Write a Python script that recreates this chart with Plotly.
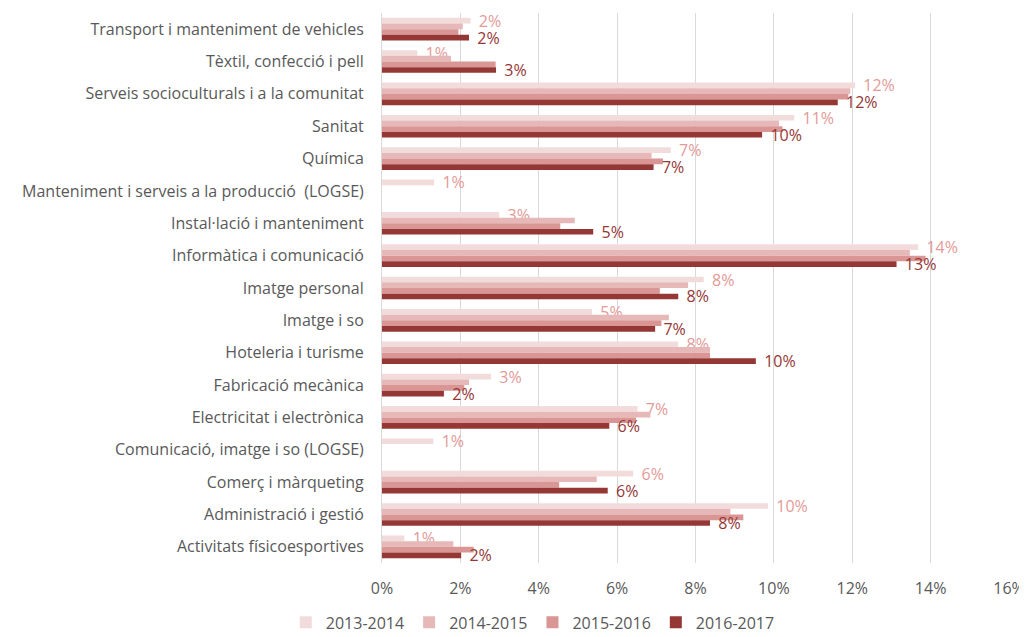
import plotly.graph_objects as go

# -----------------------------
# Daten (Anteil in %)
# -----------------------------
families = [
    "Transport i manteniment de vehicles",
    "Tèxtil, confecció i pell",
    "Serveis socioculturals i a la comunitat",
    "Sanitat",
    "Química",
    "Manteniment i serveis a la producció  (LOGSE)",
    "Instal·lació i manteniment",
    "Informàtica i comunicació",
    "Imatge personal",
    "Imatge i so",
    "Hoteleria i turisme",
    "Fabricació mecànica",
    "Electricitat i electrònica",
    "Comunicació, imatge i so (LOGSE)",
    "Comerç i màrqueting",
    "Administració i gestió",
    "Activitats físicoesportives",
]

years = ["2013-2014", "2014-2015", "2015-2016", "2016-2017"]

v2013 = [2.26, 0.90, 12.07, 10.52, 7.37, 1.33, 2.99, 13.68, 8.21, 5.36, 7.56, 2.78, 6.52, 1.31, 6.41, 9.85, 0.57]
v2014 = [2.06, 1.76, 11.95, 10.13, 6.88, None, 4.92, 13.47, 7.81, 7.32, 8.37, 2.22, 6.85, None, 5.48, 8.89, 1.82]
v2015 = [1.95, 2.90, 11.90, 10.22, 7.17, None, 4.55, 13.87, 7.09, 7.13, 8.37, 2.10, 6.48, None, 4.52, 9.22, 2.34]
v2016 = [2.22, 2.91, 11.63, 9.70, 6.93, None, 5.39, 13.13, 7.56, 6.97, 9.54, 1.58, 5.80, None, 5.76, 8.37, 2.02]

values = [v2013, v2014, v2015, v2016]
bar_colors = ["#F2DCDB", "#E6B9B8", "#D99694", "#953735"]
label_colors = ["#E39A98", None, None, "#953735"]

FONT = "'Open Sans', Lato, sans-serif"
GREY = "#595959"

fig = go.Figure()
for name, vals, col, lcol in zip(years, values, bar_colors, label_colors):
    kw = {}
    if lcol:
        kw = dict(
            texttemplate="\u00a0\u00a0%{x:.0f}%",
            textposition="outside",
            textfont=dict(family=FONT, size=16, color=lcol),
            constraintext="none",
            cliponaxis=False,
        )
    fig.add_trace(go.Bar(
        y=families, x=vals, name=name, orientation="h",
        marker=dict(color=col, line=dict(width=0)),
        hoverinfo="x+name", **kw))

# die Seite hat 8px Body-Rand -> Figur um 8px kleiner
fig.update_layout(
    barmode="group",
    bargap=0.3,
    bargroupgap=0,
    width=1019, height=629,
    margin=dict(l=374, r=18, t=5, b=74, autoexpand=False),
    paper_bgcolor="white",
    plot_bgcolor="white",
    font=dict(family=FONT, size=16, color=GREY),
    xaxis=dict(
        range=[0, 16], dtick=2, ticksuffix="%",
        showgrid=True, gridcolor="#D9D9D9", gridwidth=1,
        zeroline=False, showline=False, automargin=False,
        ticks="", ticklabelstandoff=14,
        tickfont=dict(size=16, color=GREY),
    ),
    yaxis=dict(
        autorange="reversed", showgrid=False, zeroline=False,
        showline=True, linecolor="#D9D9D9", linewidth=1,
        ticks="", ticklabelstandoff=14, automargin=False,
        tickfont=dict(size=16, color=GREY),
    ),
    legend=dict(
        orientation="h", xref="container", x=0.515, xanchor="center",
        y=-0.108, yanchor="middle",
        font=dict(size=16, color=GREY), itemwidth=30,
    ),
)

fig.write_html("out.html")
